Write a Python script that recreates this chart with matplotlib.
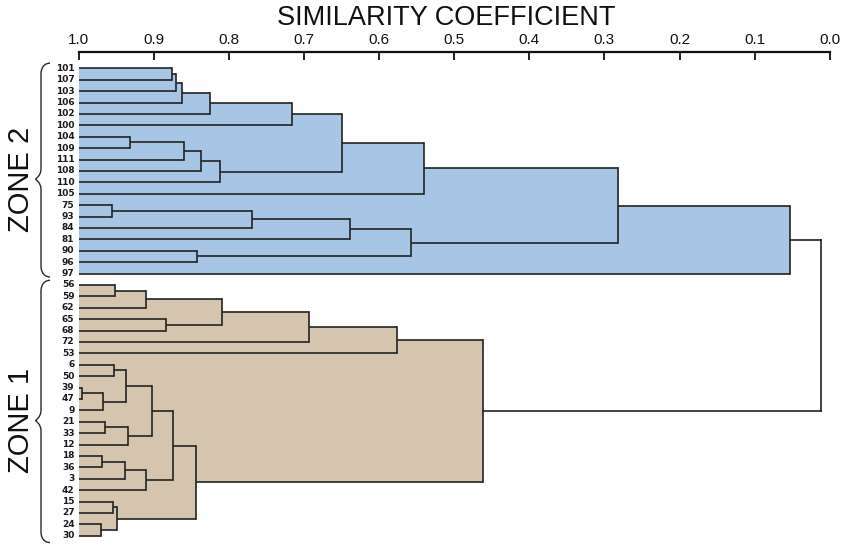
import matplotlib
matplotlib.use("Agg")
import matplotlib.pyplot as plt
from matplotlib import font_manager
from matplotlib.path import Path
from matplotlib.patches import PathPatch, Rectangle
from matplotlib.transforms import blended_transform_factory

# ---------------------------------------------------------------- data
zone2_leaves = ["101", "107", "103", "106", "102", "100", "104", "109", "111",
                "108", "110", "105", "75", "93", "84", "81", "90", "96", "97"]
zone1_leaves = ["56", "59", "62", "65", "68", "72", "53", "6", "50", "39", "47",
                "9", "21", "33", "12", "18", "36", "3", "42", "15", "27", "24", "30"]

# (child, child, similarity); an int child refers to an earlier link in the same list
zone2_links = [
    ("101", "107", 0.876),
    (0, "103", 0.870),
    (1, "106", 0.862),
    (2, "102", 0.825),
    (3, "100", 0.716),
    ("104", "109", 0.932),
    (5, "111", 0.860),
    (6, "108", 0.837),
    (7, "110", 0.812),
    (4, 8, 0.650),
    (9, "105", 0.540),
    ("75", "93", 0.956),
    (11, "84", 0.769),
    (12, "81", 0.639),
    ("90", "96", 0.843),
    (13, 14, 0.558),
    (10, 15, 0.282),
    (16, "97", 0.053),
]
zone1_links = [
    ("56", "59", 0.952),
    (0, "62", 0.911),
    ("65", "68", 0.884),
    (1, 2, 0.809),
    (3, "72", 0.693),
    (4, "53", 0.576),
    ("6", "50", 0.953),
    ("39", "47", 0.995),
    (7, "9", 0.968),
    (6, 8, 0.937),
    ("21", "33", 0.965),
    (10, "12", 0.935),
    (9, 11, 0.902),
    ("18", "36", 0.969),
    (13, "3", 0.938),
    (14, "42", 0.911),
    (12, 15, 0.875),
    ("15", "27", 0.954),
    ("24", "30", 0.970),
    (17, 18, 0.949),
    (16, 19, 0.844),
    (5, 20, 0.462),
]
root_similarity = 0.012

tick_values = [1.0, 0.9, 0.8, 0.7, 0.6, 0.5, 0.4, 0.3, 0.2, 0.1, 0.0]
tick_labels = ["1.0", "0.9", "0.8", "0.7", "0.6", "0.5", "0.4", "0.3", "0.2", "0.1", "0.0"]
zone_names = ["ZONE 2", "ZONE 1"]

# ---------------------------------------------------------------- style
LINE = "#232323"
BLUE = "#a7c6e5"
TAN = "#d6c5ae"
LW = 1.2

installed = {f.name for f in font_manager.fontManager.ttflist}
NARROW = "Liberation Sans Narrow" if "Liberation Sans Narrow" in installed else "Liberation Sans"

W, H = 845, 545
fig = plt.figure(figsize=(W / 100, H / 100), dpi=100)
fig.patch.set_facecolor("white")

x_left, x_right = 78.7, 829.7
y_top, y_bot = 62.6, 541.4
ax = fig.add_axes([x_left / W, 1 - y_bot / H, (x_right - x_left) / W, (y_bot - y_top) / H])

n_leaves = len(zone2_leaves) + len(zone1_leaves)
ax.set_xlim(1.0, 0.0)
ax.set_ylim(n_leaves - 0.5, -0.5)


def draw_zone(leaves, links, offset, color):
    """Draw one clade: filled boxes under each link, then its branch lines."""
    row = {lab: offset + i for i, lab in enumerate(leaves)}
    nodes = []  # (y, similarity) of each link

    def locate(c):
        if isinstance(c, int):
            return nodes[c]
        return (row[c], 1.0)

    for a, b, s in links:
        ya, sa = locate(a)
        yb, sb = locate(b)
        lo, hi = min(ya, yb), max(ya, yb)
        ax.add_patch(Rectangle((s, lo), 1.0 - s, hi - lo, facecolor=color,
                               edgecolor="none", zorder=1))
        nodes.append(((ya + yb) / 2, s))

    nodes.clear()
    for a, b, s in links:
        ya, sa = locate(a)
        yb, sb = locate(b)
        ax.plot([sa, s], [ya, ya], color=LINE, lw=LW, zorder=3, solid_capstyle="butt")
        ax.plot([sb, s], [yb, yb], color=LINE, lw=LW, zorder=3, solid_capstyle="butt")
        ax.plot([s, s], [ya, yb], color=LINE, lw=LW, zorder=3, solid_capstyle="projecting")
        nodes.append(((ya + yb) / 2, s))
    return nodes[-1]


top2 = draw_zone(zone2_leaves, zone2_links, 0, BLUE)
top1 = draw_zone(zone1_leaves, zone1_links, len(zone2_leaves), TAN)

# root join between the two zones
ax.plot([top2[1], root_similarity], [top2[0], top2[0]], color=LINE, lw=LW, zorder=3)
ax.plot([top1[1], root_similarity], [top1[0], top1[0]], color=LINE, lw=LW, zorder=3)
ax.plot([root_similarity, root_similarity], [top2[0], top1[0]], color=LINE, lw=LW, zorder=3,
        solid_capstyle="projecting")

# leaf labels
all_leaves = zone2_leaves + zone1_leaves
lab_tr = blended_transform_factory(fig.transFigure, ax.transData)
for i, lab in enumerate(all_leaves):
    ax.text(74.5 / W, i, lab, transform=lab_tr, ha="right", va="center",
            fontsize=6.5, fontweight="bold", family="DejaVu Sans", color="#1a1a1a")

# top axis
for side in ("left", "right", "bottom"):
    ax.spines[side].set_visible(False)
ax.spines["top"].set_position(("outward", 7.8))
ax.spines["top"].set_linewidth(1.6)
ax.spines["top"].set_color("#111111")
ax.xaxis.tick_top()
ax.set_xticks(tick_values)
ax.set_xticklabels(tick_labels, family=NARROW, fontsize=11)
ax.tick_params(axis="x", direction="in", length=5.5, width=1.3, pad=3.5, colors="#111111")
ax.set_yticks([])

fig.text((x_left + x_right) / 2 / W - 8 / W, 1 - 18 / H, "SIMILARITY COEFFICIENT",
         ha="center", va="center", fontsize=19.5, family=NARROW, color="#111111")


# zone braces and labels
def brace(y0, y1, tip_shift):
    xe, xm, xt = 50 / W, 41 / W, 35.5 / W
    r = 0.9
    yc = (y0 + y1) / 2 + tip_shift
    verts = [(xe, y0), (xm, y0), (xm, y0 + r), (xm, y0 + r),
             (xm, yc - r),
             (xm, yc - r / 3), (xt, yc), (xt, yc),
             (xt, yc), (xm, yc + r / 3), (xm, yc + r),
             (xm, y1 - r),
             (xm, y1 - r), (xm, y1), (xe, y1)]
    codes = [Path.MOVETO, Path.CURVE4, Path.CURVE4, Path.CURVE4,
             Path.LINETO,
             Path.CURVE4, Path.CURVE4, Path.CURVE4,
             Path.CURVE4, Path.CURVE4, Path.CURVE4,
             Path.LINETO,
             Path.CURVE4, Path.CURVE4, Path.CURVE4]
    p = PathPatch(Path(verts, codes), transform=lab_tr, fill=False, edgecolor="#2a2a2a",
                  lw=1.0, clip_on=False)
    ax.add_patch(p)
    return yc


spans = [(-0.45, len(zone2_leaves) - 1 + 0.3),
         (len(zone2_leaves) - 0.4, n_leaves - 1 + 0.6)]
for name, (y0, y1) in zip(zone_names, spans):
    yc = brace(y0, y1, 0.8)
    ax.text(21.5 / W, yc, name, transform=lab_tr, rotation=90, ha="center", va="center",
            fontsize=21, family=NARROW, color="#111111")

fig.savefig("out.png", dpi=100, facecolor="white")
